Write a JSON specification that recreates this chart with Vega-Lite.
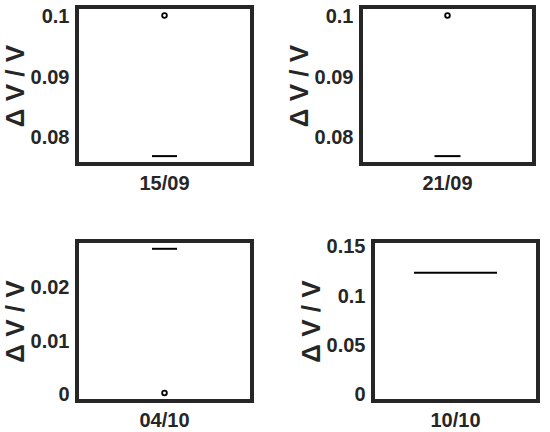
{
  "$schema": "https://vega.github.io/schema/vega-lite/v6.json",
  "padding": {"left": 0, "top": 4, "right": 0, "bottom": 0},
  "background": "white",
  "data": {"values": [
    {"date": "15/09", "stat": "median", "value": 0.0770},
    {"date": "15/09", "stat": "outlier", "value": 0.1002},
    {"date": "21/09", "stat": "median", "value": 0.0770},
    {"date": "21/09", "stat": "outlier", "value": 0.1002},
    {"date": "04/10", "stat": "median", "value": 0.0273},
    {"date": "04/10", "stat": "outlier", "value": 0.0003},
    {"date": "10/10", "stat": "median", "value": 0.1237}
  ]},
  "config": {
    "view": {"stroke": "#262626", "strokeWidth": 4},
    "font": "Liberation Sans",
    "axis": {
      "grid": false, "ticks": false, "tickSize": 0, "domain": false,
      "labelFont": "Liberation Sans", "labelFontSize": 20, "labelFontWeight": "bold", "labelColor": "#262626",
      "titleFont": "Liberation Sans", "titleFontSize": 26, "titleFontWeight": "bold", "titleColor": "#262626"
    },
    "axisX": {"labelAngle": 0, "labelPadding": 9, "title": null},
    "axisY": {"labelPadding": 8, "titlePadding": 2, "format": "~g"}
  },
  "vconcat": [
    {
      "spacing": 30,
      "hconcat": [
        {
          "width": 175, "height": 157,
          "transform": [{"filter": "datum.date === '15/09'"}],
          "encoding": {
            "x": {"field": "date", "type": "nominal"},
            "y": {"field": "value", "type": "quantitative", "title": "Δ V / V",
                  "scale": {"domain": [0.0757, 0.1016], "nice": false, "zero": false},
                  "axis": {"values": [0.08, 0.09, 0.1]}}
          },
          "layer": [
            {"transform": [{"filter": "datum.stat === 'median'"}],
             "mark": {"type": "tick", "size": 25, "thickness": 2, "color": "black", "opacity": 1}},
            {"transform": [{"filter": "datum.stat === 'outlier'"}],
             "mark": {"type": "point", "size": 22, "strokeWidth": 1.8, "color": "black", "filled": false, "opacity": 1}}
          ]
        },
        {
          "width": 173, "height": 157,
          "transform": [{"filter": "datum.date === '21/09'"}],
          "encoding": {
            "x": {"field": "date", "type": "nominal"},
            "y": {"field": "value", "type": "quantitative", "title": "Δ V / V",
                  "scale": {"domain": [0.0757, 0.1016], "nice": false, "zero": false},
                  "axis": {"values": [0.08, 0.09, 0.1]}}
          },
          "layer": [
            {"transform": [{"filter": "datum.stat === 'median'"}],
             "mark": {"type": "tick", "size": 26, "thickness": 2, "color": "black", "opacity": 1}},
            {"transform": [{"filter": "datum.stat === 'outlier'"}],
             "mark": {"type": "point", "size": 22, "strokeWidth": 1.8, "color": "black", "filled": false, "opacity": 1}}
          ]
        }
      ]
    },
    {
      "spacing": 42,
      "hconcat": [
        {
          "width": 175, "height": 160,
          "transform": [{"filter": "datum.date === '04/10'"}],
          "encoding": {
            "x": {"field": "date", "type": "nominal"},
            "y": {"field": "value", "type": "quantitative", "title": "Δ V / V",
                  "scale": {"domain": [-0.0012, 0.02876], "nice": false, "zero": false},
                  "axis": {"values": [0, 0.01, 0.02]}}
          },
          "layer": [
            {"transform": [{"filter": "datum.stat === 'median'"}],
             "mark": {"type": "tick", "size": 25, "thickness": 2, "color": "black", "opacity": 1}},
            {"transform": [{"filter": "datum.stat === 'outlier'"}],
             "mark": {"type": "point", "size": 22, "strokeWidth": 1.8, "color": "black", "filled": false, "opacity": 1}}
          ]
        },
        {
          "width": 165, "height": 160,
          "transform": [{"filter": "datum.date === '10/10'"}],
          "encoding": {
            "x": {"field": "date", "type": "nominal"},
            "y": {"field": "value", "type": "quantitative", "title": "Δ V / V",
                  "scale": {"domain": [-0.0065, 0.1559], "nice": false, "zero": false},
                  "axis": {"values": [0, 0.05, 0.1, 0.15]}}
          },
          "layer": [
            {"transform": [{"filter": "datum.stat === 'median'"}],
             "mark": {"type": "tick", "size": 83, "thickness": 2, "color": "black", "opacity": 1}}
          ]
        }
      ]
    }
  ],
  "spacing": 39
}
